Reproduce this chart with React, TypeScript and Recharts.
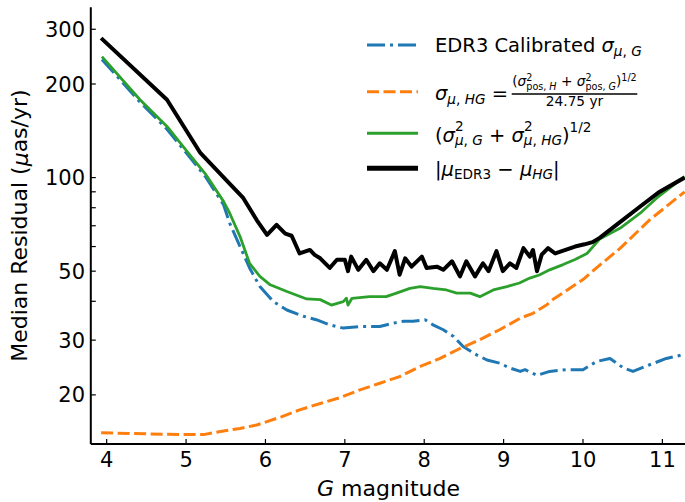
import { LineChart, Line, XAxis, YAxis, Legend } from 'recharts'

const xTicks = [4, 5, 6, 7, 8, 9, 10, 11]
const yTicks = [20, 30, 40, 50, 60, 70, 80, 90, 100, 200, 300]
const yLabeled = [20, 30, 50, 100, 200, 300]

// |mu_EDR3 - mu_HG|
const blackG = [3.93, 4.76, 5.18, 5.56, 5.72, 5.89, 6.02, 6.14, 6.25, 6.33, 6.43, 6.56, 6.62, 6.69, 6.81, 6.9, 7.0, 7.04, 7.08, 7.17, 7.27, 7.36, 7.44, 7.53, 7.63, 7.69, 7.76, 7.84, 7.97, 8.03, 8.16, 8.24, 8.35, 8.45, 8.53, 8.64, 8.74, 8.81, 8.91, 8.99, 9.08, 9.16, 9.25, 9.33, 9.37, 9.42, 9.48, 9.56, 9.65, 9.78, 9.9, 10.02, 10.12, 10.21, 10.47, 10.72, 10.95, 11.28]
const blackV = [281, 178, 120, 95, 86, 73, 65.4, 70.5, 66, 65, 57, 58.5, 56.4, 55, 51.2, 54.4, 54.4, 50, 55.7, 50.5, 54.4, 50, 53, 50.5, 58, 48.7, 55, 51.7, 55.7, 51.2, 51.7, 50.5, 53.8, 48.1, 53.8, 48.1, 53, 50, 58, 50, 53, 51.2, 59.3, 55.7, 58.5, 50, 56.5, 59.3, 57, 58.5, 60, 61, 62, 64, 72, 80.7, 89.5, 100]

// (sigma_G^2 + sigma_HG^2)^1/2
const greenG = [3.94, 4.42, 4.76, 5.05, 5.24, 5.47, 5.55, 5.68, 5.8, 5.93, 6.06, 6.27, 6.52, 6.69, 6.83, 6.98, 7.02, 7.04, 7.09, 7.31, 7.52, 7.65, 7.82, 7.95, 8.11, 8.28, 8.41, 8.58, 8.7, 8.87, 9.04, 9.2, 9.33, 9.45, 9.58, 9.75, 9.9, 10.05, 10.21, 10.47, 10.72, 10.95, 11.28]
const greenV = [245, 178, 146, 118, 103, 84, 76.8, 64.6, 53, 48.1, 45.2, 43, 40.7, 40.5, 38.9, 39.9, 40.9, 38.9, 40.9, 41.4, 41.4, 42.5, 44, 44.6, 44, 43.5, 42.5, 42.5, 41.4, 43.5, 44.6, 45.8, 47.5, 48.6, 50.5, 52.5, 54.5, 57, 63.4, 68.8, 76.8, 86.9, 100.7]

// EDR3 calibrated sigma_G
const blueG = [3.94, 4.42, 4.76, 5.05, 5.24, 5.47, 5.55, 5.68, 5.8, 5.93, 6.1, 6.27, 6.48, 6.64, 6.81, 6.98, 7.23, 7.44, 7.61, 7.74, 7.86, 8.01, 8.11, 8.24, 8.37, 8.49, 8.66, 8.79, 8.95, 9.08, 9.21, 9.27, 9.42, 9.58, 9.79, 10.0, 10.17, 10.34, 10.51, 10.63, 10.84, 11.05, 11.28]
const blueV = [240, 175, 143, 116, 101, 82, 71.3, 60, 51.2, 44.6, 39.9, 37.5, 35.8, 34.9, 33.6, 32.8, 33.2, 33.2, 34, 34.5, 34.5, 34.9, 33.6, 32.4, 30.8, 28.6, 26.9, 25.9, 25.3, 24.4, 23.8, 24.1, 23.1, 23.8, 24.1, 24.1, 25.6, 26.2, 24.4, 23.8, 25, 26.2, 27]

// sigma_HG from position errors
const orangeG = [3.93, 4.93, 5.22, 5.47, 5.68, 5.89, 6.2, 6.43, 6.7, 6.94, 7.2, 7.44, 7.69, 7.95, 8.2, 8.45, 8.7, 8.95, 9.21, 9.37, 9.54, 9.62, 10.0, 10.2, 10.47, 10.84, 11.28]
const orangeV = [15.1, 14.9, 14.9, 15.3, 15.6, 16, 17, 17.9, 18.8, 19.6, 20.8, 21.8, 22.9, 24.7, 26.2, 28.2, 30.1, 32.4, 35.3, 36.6, 38.9, 40.5, 47, 52, 59.3, 73.1, 90]

const mk = (g: number[], v: number[]) => g.map((x, i) => ({ g: x, v: v[i] }))

const FONT = '"DejaVu Sans", sans-serif'
const BLUE = '#1f77b4'
const ORANGE = '#ff7f0e'
const GREEN = '#2ca02c'

const PL = 90.8
const PR = 686.2
const PT = 7.3
const PB = 444

const BottomTick = (p: any) => (
  <g>
    <line x1={p.x} x2={p.x} y1={PB} y2={PB - 5} stroke="#000" strokeWidth={1.2} />
    <text x={p.x} y={PB + 22.5} textAnchor="middle" fontSize={21} fontFamily={FONT} fill="#000">{p.payload.value}</text>
  </g>
)
const TopTick = (p: any) => (
  <line x1={p.x} x2={p.x} y1={PT} y2={PT + 5} stroke="#000" strokeWidth={1.2} />
)
const LeftTick = (p: any) => (
  <g>
    <line x1={PL} x2={PL + 5} y1={p.y} y2={p.y} stroke="#000" strokeWidth={1.2} />
    {yLabeled.includes(p.payload.value) && (
      <text x={PL - 5.8} y={p.y + 7.5} textAnchor="end" fontSize={21} fontFamily={FONT} fill="#000">{p.payload.value}</text>
    )}
  </g>
)
const RightTick = (p: any) => (
  <line x1={PR - 5} x2={PR} y1={p.y} y2={p.y} stroke="#000" strokeWidth={1.2} />
)

const it = { fontStyle: 'italic' as const }

function LegendBox() {
  return (
    <svg width={685} height={200} style={{ display: 'block' }} fontFamily={FONT} fill="#000">
      <line x1={367} x2={418} y1={45} y2={45} stroke={BLUE} strokeWidth={3} strokeDasharray="18 5 3 5" />
      <line x1={367} x2={418} y1={91.7} y2={91.7} stroke={ORANGE} strokeWidth={3} strokeDasharray="12 4.5" />
      <line x1={367} x2={418} y1={133.3} y2={133.3} stroke={GREEN} strokeWidth={3} />
      <line x1={367} x2={418} y1={168.3} y2={168.3} stroke="#000" strokeWidth={5} />

      <text x={435} y={51.7} fontSize={19.5}>
        EDR3 Calibrated <tspan style={it}>σ</tspan>
        <tspan dy={4} fontSize={13.6}><tspan style={it}>μ</tspan>, <tspan style={it}>G</tspan></tspan>
      </text>

      <text x={435} y={100} fontSize={19.5}>
        <tspan style={it}>σ</tspan>
        <tspan dy={4} fontSize={13.6}><tspan style={it}>μ</tspan>, <tspan style={it}>HG</tspan></tspan>
        <tspan dy={-4}> = </tspan>
      </text>
      <line x1={511.7} x2={637.3} y1={94} y2={94} stroke="#000" strokeWidth={1.5} />
      <text x={574.5} y={86} fontSize={13.7} textAnchor="middle">
        (<tspan style={it}>σ</tspan>
        <tspan dy={-5} fontSize={9.6}>2</tspan>
        <tspan dx={-6.1} dy={8.5} fontSize={9.6}>pos, <tspan style={it}>H</tspan></tspan>
        <tspan dy={-3.5}> + </tspan>
        <tspan style={it}>σ</tspan>
        <tspan dy={-5} fontSize={9.6}>2</tspan>
        <tspan dx={-6.1} dy={8.5} fontSize={9.6}>pos, <tspan style={it}>G</tspan></tspan>
        <tspan dy={-3.5}>)</tspan>
        <tspan dy={-5} fontSize={9.6}>1/2</tspan>
      </text>
      <text x={574.5} y={106} fontSize={13.7} textAnchor="middle">24.75 yr</text>

      <text x={435} y={142} fontSize={19.5}>
        (<tspan style={it}>σ</tspan>
        <tspan dy={-11} fontSize={13.6}>2</tspan>
        <tspan dx={-8.7} dy={14} fontSize={13.6}><tspan style={it}>μ</tspan>, <tspan style={it}>G</tspan></tspan>
        <tspan dy={-3}> + </tspan>
        <tspan style={it}>σ</tspan>
        <tspan dy={-11} fontSize={13.6}>2</tspan>
        <tspan dx={-8.7} dy={14} fontSize={13.6}><tspan style={it}>μ</tspan>, <tspan style={it}>HG</tspan></tspan>
        <tspan dy={-3}>)</tspan>
        <tspan dy={-10} fontSize={13.6}>1/2</tspan>
      </text>

      <text x={435} y={175.5} fontSize={19.5}>
        |<tspan style={it}>μ</tspan>
        <tspan dy={3.5} fontSize={13.6}>EDR3</tspan>
        <tspan dy={-3.5}> − </tspan>
        <tspan style={it}>μ</tspan>
        <tspan dy={3.5} fontSize={13.6} style={it}>HG</tspan>
        <tspan dy={-3.5}>|</tspan>
      </text>
    </svg>
  )
}

export default function App() {
  return (
    <div style={{ position: 'absolute', left: 0, top: 0, width: 685, height: 502, overflow: 'hidden', background: '#fff' }}>
      <LineChart width={687} height={502} margin={{ top: PT, right: 687 - PR, bottom: 0, left: PL - 60 }}>
        <XAxis
          type="number" dataKey="g" domain={[3.8, 11.3]} ticks={xTicks} allowDataOverflow
          height={58} axisLine={{ stroke: '#000', strokeWidth: 2 }} tickLine={false} tick={BottomTick}
          label={() => (
            <text x={(PL + PR) / 2} y={496} textAnchor="middle" fontSize={22} fontFamily={FONT} fill="#000">
              <tspan style={it}>G</tspan> magnitude
            </text>
          )}
        />
        <XAxis
          xAxisId="top" orientation="top" type="number" dataKey="g" domain={[3.8, 11.3]} ticks={xTicks}
          allowDataOverflow height={0} axisLine={{ stroke: '#000', strokeWidth: 2 }} tickLine={false} tick={TopTick}
        />
        <YAxis
          type="number" scale="log" domain={[13.9, 353]} ticks={yTicks} interval={0} allowDataOverflow
          width={60} axisLine={{ stroke: '#000', strokeWidth: 2 }} tickLine={false} tick={LeftTick}
          label={() => (
            <text x={20} y={225.6} transform="rotate(-90 20 225.6)" textAnchor="middle" dominantBaseline="central" fontSize={22} fontFamily={FONT} fill="#000">
              Median Residual (<tspan style={it}>μ</tspan>as/yr)
            </text>
          )}
        />
        <YAxis
          yAxisId="right" orientation="right" type="number" scale="log" domain={[13.9, 353]} ticks={yTicks}
          interval={0} allowDataOverflow width={0} axisLine={{ stroke: '#000', strokeWidth: 2 }} tickLine={false} tick={RightTick}
        />
        <Legend
          layout="horizontal" align="center" verticalAlign="middle"
          wrapperStyle={{ position: 'absolute', left: 0, top: 0, width: 685, height: 200, margin: 0, padding: 0 }}
          content={() => <LegendBox />}
        />
        <Line data={mk(blueG, blueV)} dataKey="v" type="linear" stroke={BLUE} strokeWidth={3} strokeDasharray="18 5 3 5" dot={false} isAnimationActive={false} strokeLinejoin="round" />
        <Line data={mk(orangeG, orangeV)} dataKey="v" type="linear" stroke={ORANGE} strokeWidth={3} strokeDasharray="12 4.5" dot={false} isAnimationActive={false} strokeLinejoin="round" />
        <Line data={mk(greenG, greenV)} dataKey="v" type="linear" stroke={GREEN} strokeWidth={2.8} dot={false} isAnimationActive={false} strokeLinejoin="round" />
        <Line data={mk(blackG, blackV)} dataKey="v" type="linear" stroke="#000" strokeWidth={4} dot={false} isAnimationActive={false} strokeLinejoin="round" />
      </LineChart>
    </div>
  )
}
